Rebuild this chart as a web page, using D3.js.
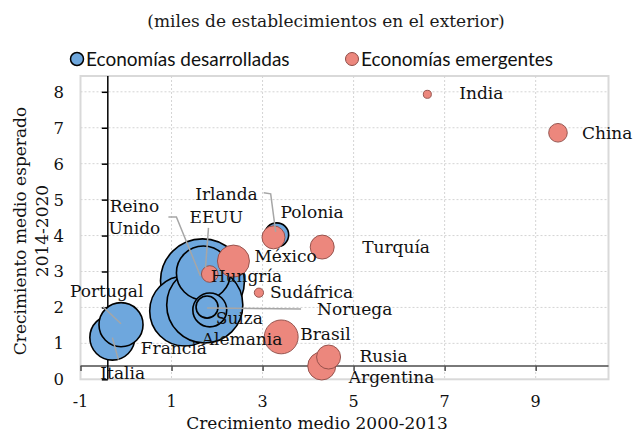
<!DOCTYPE html>
<html>
<head>
<meta charset="utf-8">
<script src="https://cdn.jsdelivr.net/npm/d3@7"></script>
<style>
  body { margin: 0; background: #fff; }
</style>
</head>
<body>
<svg id="chart"></svg>
<script>
var WIDTH = 636, HEIGHT = 433;
var PLOT = { left: 80.5, right: 608.5, top: 76, bottom: 379.3 };
var BLUE = "#6ea7dd", RED = "#ec877d", RED_STROKE = "#8c4b45";
var GRID_COLOR = "#d4d4d4", LEADER_COLOR = "#a6a6a6";
var SERIF = "'DejaVu Serif', serif", SANS = "Lato, sans-serif";
var LABEL_SIZE = "17px";

//data: crecimiento 2000-2013 (x), crecimiento esperado 2014-2020 (y), miles de establecimientos (size)
var developedNames = ["EEUU", "Francia", "Alemania", "Reino Unido", "Italia", "Portugal", "Suiza", "Noruega", "Irlanda"];
var developedX     = [1.68, 1.29, 1.73, 1.70, -0.30, -0.11, 1.84, 1.78, 3.31];
var developedY     = [2.74, 1.90, 2.07, 2.96, 1.16, 1.52, 1.93, 2.01, 4.02];
var developedSize  = [24.0, 16.7, 19.7, 9.9, 6.9, 6.6, 3.9, 1.65, 1.96];

var emergingNames = ["Hungría", "México", "Polonia", "Turquía", "Sudáfrica", "Brasil", "Argentina", "Rusia", "India", "China"];
var emergingX     = [1.84, 2.36, 3.24, 4.31, 2.92, 3.41, 4.30, 4.45, 6.62, 9.49];
var emergingY     = [2.93, 3.29, 3.95, 3.68, 2.41, 1.18, 0.37, 0.62, 7.93, 6.86];
var emergingSize  = [0.94, 3.5, 1.8, 1.96, 0.29, 3.9, 2.67, 1.96, 0.22, 1.18];

var xTicks = [-1, 1, 3, 5, 7, 9];
var yTicks = [0, 1, 2, 3, 4, 5, 6, 7, 8];
var seriesNames = ["Economías desarrolladas", "Economías emergentes"];

//label placement, pixel offsets from the bubble centre
var labelLayout = {
    "EEUU":        { lines: ["EEUU"], dx: -13, dy: -58, leader: [[6, -53], [3, -13]] },
    "Francia":     { lines: ["Francia"], dx: -44, dy: 43 },
    "Alemania":    { lines: ["Alemania"], dx: -3, dy: 40 },
    "Reino Unido": { lines: ["Reino", "Unido"], dx: -69, dy: -61, anchor: "middle", leader: [[-35, -56], [-27, -56], [-3, 3]] },
    "Italia":      { lines: ["Italia"], dx: -12, dy: 41, leader: [[0, 0], [6, 22]] },
    "Portugal":    { lines: ["Portugal"], dx: -51, dy: -28, leader: [[-18, -18], [0, -1]] },
    "Suiza":       { lines: ["Suiza"], dx: 6, dy: 14 },
    "Noruega":     { lines: ["Noruega"], dx: 110, dy: 8, leader: [[0, 1], [94, 2]] },
    "Irlanda":     { lines: ["Irlanda"], dx: -19, dy: -35, anchor: "end", leader: [[-13, -42], [-6, -41], [-1, -3]] },
    "Hungría":     { lines: ["Hungría"], dx: 1, dy: 8 },
    "México":      { lines: ["México"], dx: 21, dy: 1 },
    "Polonia":     { lines: ["Polonia"], dx: 7, dy: -19 },
    "Turquía":     { lines: ["Turquía"], dx: 40, dy: 6 },
    "Sudáfrica":   { lines: ["Sudáfrica"], dx: 11, dy: 5 },
    "Brasil":      { lines: ["Brasil"], dx: 19, dy: 3 },
    "Argentina":   { lines: ["Argentina"], dx: 27, dy: 17 },
    "Rusia":       { lines: ["Rusia"], dx: 31, dy: 5 },
    "India":       { lines: ["India"], dx: 32, dy: 5 },
    "China":       { lines: ["China"], dx: 24, dy: 6 }
};

function buildPoints(names, xs, ys, sizes, group) {
    return names.map(function (n, i) {
        return { name: n, x: xs[i], y: ys[i], size: sizes[i], group: group };
    });
}
var developed = buildPoints(developedNames, developedX, developedY, developedSize, 0);
var emerging = buildPoints(emergingNames, emergingX, emergingY, emergingSize, 1);
var allPoints = developed.concat(emerging);

var x = d3.scaleLinear().domain([-1, 10.6]).range([PLOT.left, PLOT.right]);
var y = d3.scaleLinear().domain([0, 8.44]).range([PLOT.bottom, PLOT.top]);
var r = d3.scaleSqrt().domain([0, 24]).range([0, 42]);

var svg = d3.select("#chart")
    .attr("width", WIDTH)
    .attr("height", HEIGHT)
    .style("font-family", SERIF);

//subtitle
svg.append("text")
    .attr("x", 326)
    .attr("y", 27)
    .attr("text-anchor", "middle")
    .style("font-size", "17px")
    .style("fill", "#1a1a1a")
    .text("(miles de establecimientos en el exterior)");

//legend
var legendX = [77, 352];
seriesNames.forEach(function (name, i) {
    svg.append("circle")
        .attr("cx", legendX[i])
        .attr("cy", 59)
        .attr("r", 6.5)
        .style("fill", i === 0 ? BLUE : RED)
        .style("stroke", i === 0 ? "#000" : RED_STROKE)
        .style("stroke-width", i === 0 ? 1.5 : 1);
    svg.append("text")
        .attr("x", legendX[i] + 9)
        .attr("y", 66)
        .style("font-family", SANS)
        .style("font-size", "19px")
        .style("fill", "#111")
        .text(name);
});

//plot border
svg.append("rect")
    .attr("x", PLOT.left)
    .attr("y", PLOT.top)
    .attr("width", PLOT.right - PLOT.left)
    .attr("height", PLOT.bottom - PLOT.top)
    .style("fill", "none")
    .style("stroke", "#d9d9d9")
    .style("stroke-width", 2);

//gridlines
svg.append("g")
    .attr("class", "grid-x")
    .selectAll("line")
    .data(xTicks.filter(function (t) { return t > -1; }))
    .join("line")
    .attr("x1", function (d) { return x(d); })
    .attr("x2", function (d) { return x(d); })
    .attr("y1", PLOT.top)
    .attr("y2", PLOT.bottom)
    .style("stroke", GRID_COLOR)
    .style("stroke-dasharray", "2,2");
svg.append("g")
    .attr("class", "grid-y")
    .selectAll("line")
    .data(yTicks.filter(function (t) { return t > 0; }))
    .join("line")
    .attr("x1", PLOT.left)
    .attr("x2", PLOT.right)
    .attr("y1", function (d) { return y(d); })
    .attr("y2", function (d) { return y(d); })
    .style("stroke", GRID_COLOR)
    .style("stroke-dasharray", "2,2");

//axes, crossing inside the plot
var xCross = -0.4, yCross = 0.37;
var xAxis = svg.append("g")
    .attr("transform", "translate(0," + y(yCross) + ")")
    .call(d3.axisBottom(x).tickValues(xTicks).tickSize(5).tickFormat(""));
xAxis.select(".domain").attr("d", "M" + PLOT.left + ",0H" + PLOT.right)
    .style("stroke", "#4d4d4d").style("stroke-width", 1.5);
xAxis.selectAll(".tick line").style("stroke", "#4d4d4d").style("stroke-width", 1.5);

var yAxis = svg.append("g")
    .attr("transform", "translate(" + x(xCross) + ",0)")
    .call(d3.axisLeft(y).tickValues(yTicks).tickSize(6).tickFormat(""));
yAxis.select(".domain").attr("d", "M0," + PLOT.top + "V" + PLOT.bottom)
    .style("stroke", "#000").style("stroke-width", 1.5);
yAxis.selectAll(".tick line").style("stroke", "#000").style("stroke-width", 1.5);

//tick labels sit outside the plot
svg.append("g")
    .selectAll("text")
    .data(xTicks)
    .join("text")
    .attr("x", function (d) { return x(d); })
    .attr("y", 407)
    .attr("text-anchor", "middle")
    .style("font-size", "16px")
    .style("fill", "#111")
    .text(function (d) { return d; });
svg.append("g")
    .selectAll("text")
    .data(yTicks)
    .join("text")
    .attr("x", 64)
    .attr("y", function (d) { return y(d) + 6; })
    .attr("text-anchor", "end")
    .style("font-size", "16.5px")
    .style("fill", "#111")
    .text(function (d) { return d; });

//axis titles
svg.append("text")
    .attr("x", 317)
    .attr("y", 429)
    .attr("text-anchor", "middle")
    .style("font-size", LABEL_SIZE)
    .style("fill", "#111")
    .text("Crecimiento medio 2000-2013");
var yTitle = svg.append("text")
    .attr("transform", "translate(26,231) rotate(-90)")
    .attr("text-anchor", "middle")
    .style("font-size", LABEL_SIZE)
    .style("fill", "#111");
yTitle.append("tspan").attr("x", 0).attr("y", 0).text("Crecimiento medio esperado");
yTitle.append("tspan").attr("x", 0).attr("y", 22).text("2014-2020");

//bubbles
svg.append("g")
    .attr("class", "bubbles")
    .selectAll("circle")
    .data(allPoints)
    .join("circle")
    .attr("cx", function (d) { return x(d.x); })
    .attr("cy", function (d) { return y(d.y); })
    .attr("r", function (d) { return r(d.size); })
    .style("fill", function (d) { return d.group === 0 ? BLUE : RED; })
    .style("stroke", function (d) { return d.group === 0 ? "#000" : RED_STROKE; })
    .style("stroke-width", function (d) { return d.group === 0 ? 1.6 : 0.9; });

//leader lines
var leaderLine = d3.line();
allPoints.forEach(function (d) {
    var lay = labelLayout[d.name];
    if (!lay || !lay.leader) return;
    var cx = x(d.x), cy = y(d.y);
    svg.append("path")
        .attr("d", leaderLine(lay.leader.map(function (p) { return [cx + p[0], cy + p[1]]; })))
        .style("fill", "none")
        .style("stroke", LEADER_COLOR)
        .style("stroke-width", 1.5);
});

//country labels
allPoints.forEach(function (d) {
    var lay = labelLayout[d.name];
    var cx = x(d.x), cy = y(d.y);
    var t = svg.append("text")
        .attr("text-anchor", lay.anchor || "start")
        .style("font-size", LABEL_SIZE)
        .style("fill", "#111");
    lay.lines.forEach(function (line, i) {
        t.append("tspan")
            .attr("x", cx + lay.dx)
            .attr("y", cy + lay.dy + i * 22)
            .text(line);
    });
});
</script>
</body>
</html>
